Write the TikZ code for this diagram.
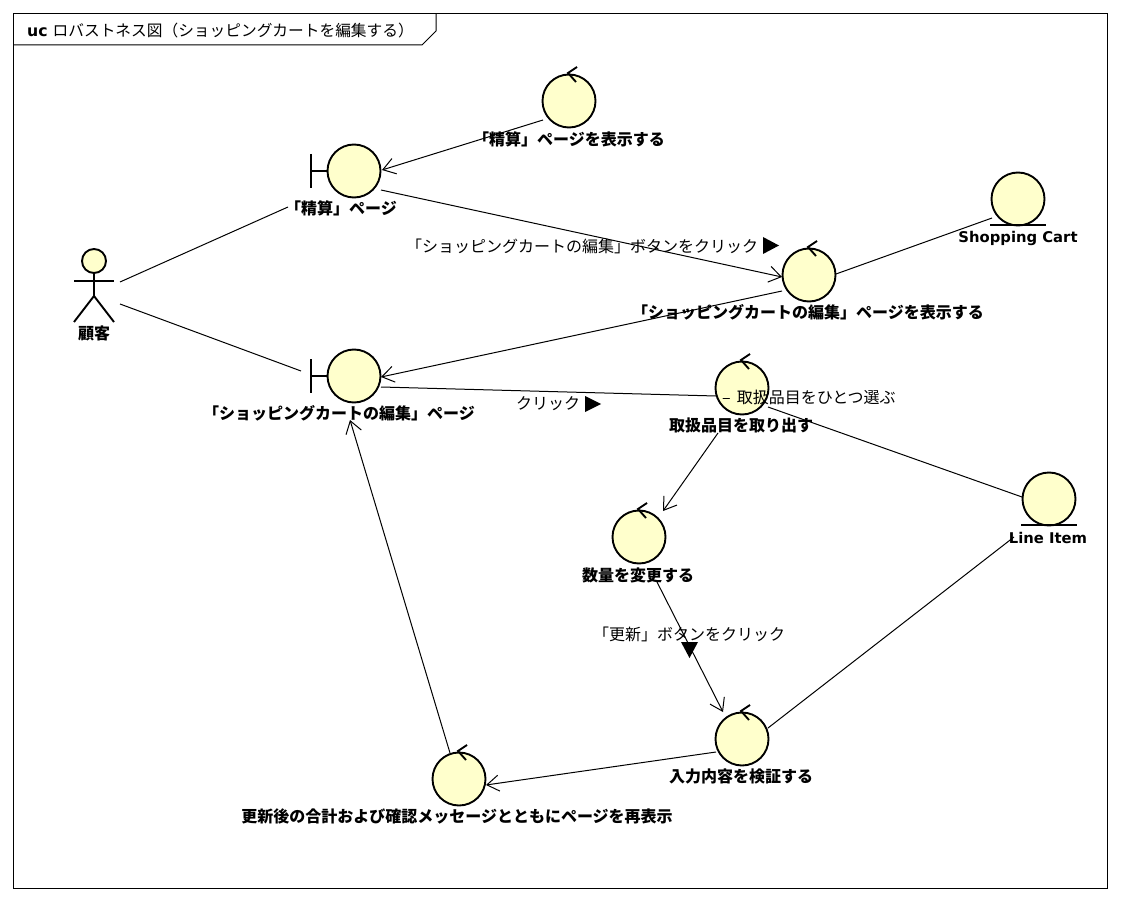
\documentclass[tikz,border=0pt]{standalone}
\usepackage{fontspec}
\setmainfont{Noto Sans CJK JP}
\newfontfamily\latinfont{DejaVu Sans}
\usetikzlibrary{arrows.meta}
\definecolor{iconfill}{RGB}{255,255,204}

\begin{document}
\begin{tikzpicture}[x=1pt, y=-1pt,
			icon/.style={
				circle,
				draw,
				line width = 1.9pt,
				fill = iconfill,
				outer sep = 0pt,
				inner sep = 0pt,
				minimum size = 53pt},
			iconmark/.style={line width = 1.9pt},
			assoc/.style={line width = 1pt},
			flow/.style={line width = 1pt, -{Straight Barb[length=12pt, width=16pt, line width=1pt]}},
			label/.style={
				font = \bfseries\fontsize{16}{18}\selectfont,
				inner sep = 0pt},
			latinlabel/.style={
				font = \latinfont\bfseries\fontsize{14.8}{18}\selectfont,
				inner sep = 0pt},
			note/.style={
				font = \fontsize{16}{18}\selectfont,
				inner sep = 0pt}]
	\fill[white] (0, 0) rectangle (1121, 901);
	\useasboundingbox (0, 0) rectangle (1121, 901);

	% frame
	\draw[line width = 1pt] (13.5, 13.5) rectangle (1107.5, 888.5);
	\draw[line width = 1pt] (13.5, 45) -- (422, 45) -- (436, 31) -- (436, 13.5);
	\node[note, anchor = west, font = \fontsize{15.7}{18}\selectfont] (frametitle) at (27, 31) {{\latinfont\bfseries uc}\kern5pt ロバストネス図（ショッピングカートを編集する）};

	% customer
	\node[inner sep = 0pt, minimum width = 52pt, minimum height = 74pt] (customer) at (94, 285) {};
	\draw[iconmark, fill = iconfill] (94, 261) circle [radius = 12];
	\draw[iconmark] (94, 273) -- (94, 296);
	\draw[iconmark] (74, 281) -- (114, 281);
	\draw[iconmark] (74, 322) -- (94, 296) -- (114, 322);

	\node[icon] (checkoutview) at (569, 101) {};
	\node[icon] (checkoutpage) at (354, 171) {};
	\node[icon] (editview) at (809, 275) {};
	\node[icon] (shoppingcart) at (1018, 199) {};
	\node[icon] (editpage) at (354, 376) {};
	\node[icon] (pickitem) at (742, 388) {};
	\node[icon] (lineitem) at (1049, 499) {};
	\node[icon] (changeqty) at (639, 537) {};
	\node[icon] (validate) at (742, 739) {};
	\node[icon] (redisplay) at (459, 779) {};

	% control, boundary and entity marks
	\foreach \i in {checkoutview, editview, pickitem, changeqty, validate, redisplay}
		\draw[iconmark] ([shift={(7, -19)}]\i.center) -- ([shift={(-1, -28)}]\i.center) -- ([shift={(8, -34)}]\i.center);
	\foreach \i in {checkoutpage, editpage}
	{
		\draw[iconmark] ([shift={(-43, -17)}]\i.center) -- ([shift={(-43, 17)}]\i.center);
		\draw[iconmark] ([shift={(-43, 0)}]\i.center) -- (\i.west);
	}
	\foreach \i in {shoppingcart, lineitem}
		\draw[iconmark] ([shift={(-28, 26)}]\i.center) -- ([shift={(28, 26)}]\i.center);

	% connectors
	\draw[assoc] ([shift={(26, -3)}]customer.center) -- ([shift={(-66, 36)}]checkoutpage.center);
	\draw[assoc] ([shift={(26, 19)}]customer.center) -- ([shift={(-53, -5)}]editpage.center);
	\draw[flow] ([shift={(-26, 19)}]checkoutview.center) -- ([shift={(28, -1)}]checkoutpage.center);
	\draw[flow] ([shift={(27, 19)}]checkoutpage.center) -- ([shift={(-27, 2)}]editview.center);
	\draw[assoc] ([shift={(27, -1)}]editview.center) -- ([shift={(-26, 19)}]shoppingcart.center);
	\draw[flow] ([shift={(-27, 16)}]editview.center) -- ([shift={(27, 1)}]editpage.center);
	\draw[assoc] ([shift={(27, 11)}]editpage.center) -- ([shift={(-26, 8)}]pickitem.center);
	\draw[assoc] ([shift={(26, 19)}]pickitem.center) -- ([shift={(-27, -2)}]lineitem.center);
	\draw[flow] ([shift={(-24, 45)}]pickitem.center) -- ([shift={(24, -26)}]changeqty.center);
	\draw[flow] ([shift={(18, 45)}]changeqty.center) -- ([shift={(-19, -27)}]validate.center);
	\draw[assoc] ([shift={(26, -11)}]validate.center) -- ([shift={(-35, 38)}]lineitem.center);
	\draw[flow] ([shift={(-26, 13)}]validate.center) -- ([shift={(27, 6)}]redisplay.center);
	\draw[flow] ([shift={(-9, -26)}]redisplay.center) -- ([shift={(-4, 44)}]editpage.center);

	% direction marks
	\fill (763, 237) -- (779, 245.5) -- (763, 254) -- cycle;
	\fill (585, 396) -- (601, 404) -- (585, 412) -- cycle;
	\fill (681, 642) -- (698, 642) -- (689.5, 658) -- cycle;

	% labels
	\node[label] (customerlabel) at (94, 333) {顧客};
	\node[label] (checkoutviewlabel) at (569, 139) {「精算」ページを表示する};
	\node[label] (checkoutpagelabel) at (341, 208) {「精算」ページ};
	\node[latinlabel] (shoppingcartlabel) at (1018, 238) {Shopping Cart};
	\node[label] (editviewlabel) at (808, 312) {「ショッピングカートの編集」ページを表示する};
	\node[label] (editpagelabel) at (339, 413) {「ショッピングカートの編集」ページ};
	\node[label] (pickitemlabel) at (741, 425) {取扱品目を取り出す};
	\node[latinlabel] (lineitemlabel) at (1048, 538) {Line Item};
	\node[label] (changeqtylabel) at (638, 575) {数量を変更する};
	\node[label] (validatelabel) at (741, 776) {入力内容を検証する};
	\node[label] (redisplaylabel) at (457, 816) {更新後の合計および確認メッセージとともにページを再表示};

	\node[note] (editclick) at (582, 246) {「ショッピングカートの編集」ボタンをクリック};
	\node[note] (itemclick) at (548, 404) {クリック};
	\node[note, anchor = west] (pickone) at (722, 397) {–\kern6pt 取扱品目をひとつ選ぶ};
	\node[note] (updateclick) at (689, 634) {「更新」ボタンをクリック};
\end{tikzpicture}
\end{document}
